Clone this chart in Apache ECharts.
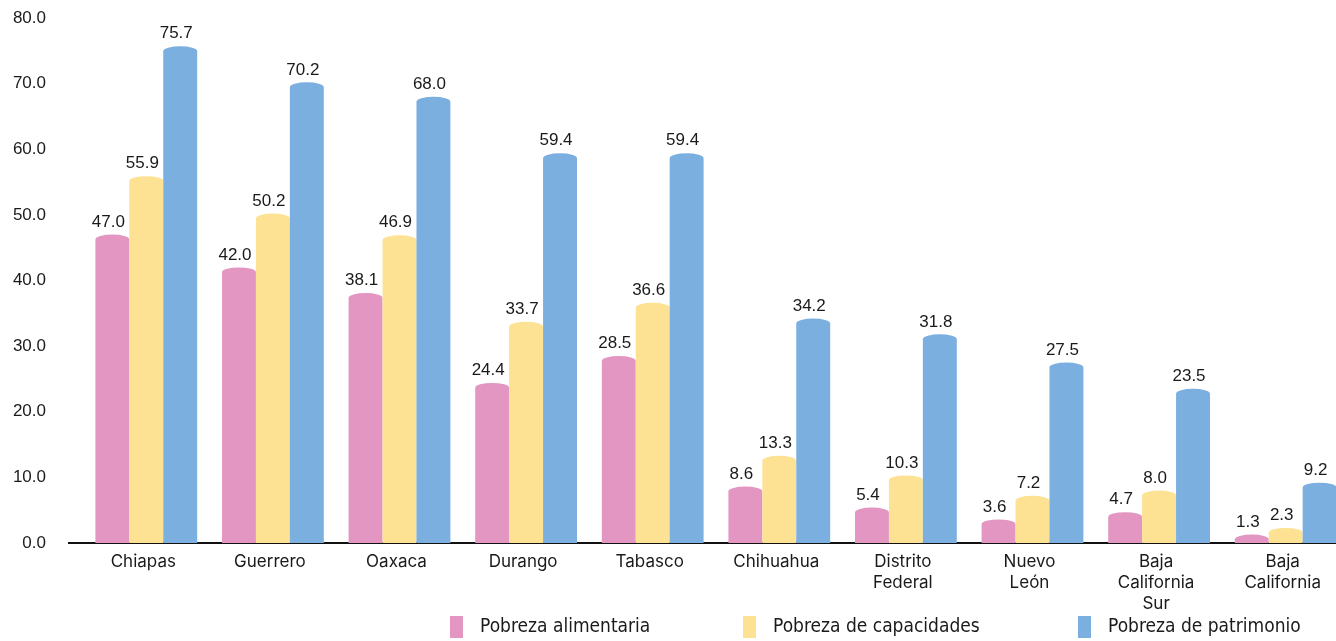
<!DOCTYPE html>
<html>
<head>
<meta charset="utf-8">
<script src="https://cdn.jsdelivr.net/npm/echarts@6/dist/echarts.min.js"></script>
<style>
html,body{margin:0;padding:0;background:#fff;}
#chart{width:1336px;height:641px;}
</style>
</head>
<body>
<div id="chart"></div>
<script>
var categories = ['Chiapas','Guerrero','Oaxaca','Durango','Tabasco','Chihuahua','Distrito\nFederal','Nuevo\nLeón','Baja\nCalifornia\nSur','Baja\nCalifornia'];
var seriesNames = ['Pobreza alimentaria','Pobreza de capacidades','Pobreza de patrimonio'];
var alimentaria = [47.0, 42.0, 38.1, 24.4, 28.5, 8.6, 5.4, 3.6, 4.7, 1.3];
var capacidades = [55.9, 50.2, 46.9, 33.7, 36.6, 13.3, 10.3, 7.2, 8.0, 2.3];
var patrimonio  = [75.7, 70.2, 68.0, 59.4, 59.4, 34.2, 31.8, 27.5, 23.5, 9.2];
var colors = ['#E296C1', '#FDE294', '#7BAFDF'];
var yTicks = [0,10,20,30,40,50,60,70,80];

var FONT = '"Liberation Sans", Arial, Helvetica, sans-serif';
var CAT_FONT = 'Inter, "Liberation Sans", Arial, sans-serif';
var LEGEND_FONT = '"Liberation Sans Narrow", "DejaVu Sans Condensed", "Liberation Sans", sans-serif';

function makeRender(idx) {
  return function (params, api) {
    var cat = api.value(0), val = api.value(1);
    var base = api.coord([cat, 0]);
    var top = api.coord([cat, val]);
    var catW = api.size([1, 0])[0];
    var bw = catW * 0.268;
    var x0 = base[0] - 1.5 * bw + idx * bw;
    var x1 = x0 + bw;
    var ry = 5;
    var yc = Math.min(top[1] + ry, base[1]);
    var d = 'M' + x0 + ',' + base[1] + ' L' + x0 + ',' + yc +
            ' A' + (bw / 2) + ',' + ry + ' 0 0 1 ' + x1 + ',' + yc +
            ' L' + x1 + ',' + base[1] + ' Z';
    return {
      type: 'group',
      children: [
        { type: 'path', shape: { pathData: d }, style: { fill: api.visual('color') } },
        { type: 'text', style: { text: val.toFixed(1), x: x0 + bw / 2 - 4, y: top[1] - 4,
            align: 'center', verticalAlign: 'bottom', fill: '#1a1a1a', font: '17px ' + FONT } }
      ]
    };
  };
}

var dataSets = [alimentaria, capacidades, patrimonio];
var series = dataSets.map(function (arr, i) {
  return {
    name: seriesNames[i],
    type: 'custom',
    renderItem: makeRender(i),
    itemStyle: { color: colors[i] },
    encode: { x: 0, y: 1 },
    clip: false,
    data: arr.map(function (v, k) { return [k, v]; }),
    z: 2
  };
});

var legendLefts = [450, 743, 1078];
var legends = seriesNames.map(function (n, i) {
  return {
    data: [n], left: legendLefts[i], top: 616, orient: 'horizontal', padding: 0,
    icon: 'rect', itemWidth: 13, itemHeight: 22, itemGap: 0,
    selectedMode: false,
    textStyle: { fontFamily: LEGEND_FONT, fontSize: 19, color: '#1a1a1a', padding: [0, 0, 0, 12] }
  };
});

var chart = echarts.init(document.getElementById('chart'));
chart.setOption({
  animation: false,
  backgroundColor: '#fff',
  grid: { left: 83, width: 1266, top: 18, height: 525, containLabel: false, outerBoundsMode: 'none' },
  legend: legends,
  xAxis: {
    type: 'category',
    data: categories,
    boundaryGap: true,
    axisTick: { show: false },
    axisLine: { show: true, lineStyle: { color: '#111', width: 2 } },
    axisLabel: { interval: 0, fontFamily: CAT_FONT, fontSize: 17, color: '#1a1a1a', lineHeight: 21, margin: 8, padding: [0, 6, 0, 0] },
    splitLine: { show: false }
  },
  yAxis: {
    type: 'value', min: 0, max: 80, interval: 10,
    axisLine: { show: false }, axisTick: { show: false }, splitLine: { show: false },
    axisLabel: { fontFamily: FONT, fontSize: 17, color: '#1a1a1a', margin: 37,
      formatter: function (v) { return yTicks.indexOf(v) >= 0 ? v.toFixed(1) : ''; } }
  },
  graphic: [{
    type: 'line', z: 10,
    shape: { x1: 68, y1: 543, x2: 84, y2: 543 },
    style: { stroke: '#111', lineWidth: 2 }
  }],
  series: series
});
</script>
</body>
</html>
